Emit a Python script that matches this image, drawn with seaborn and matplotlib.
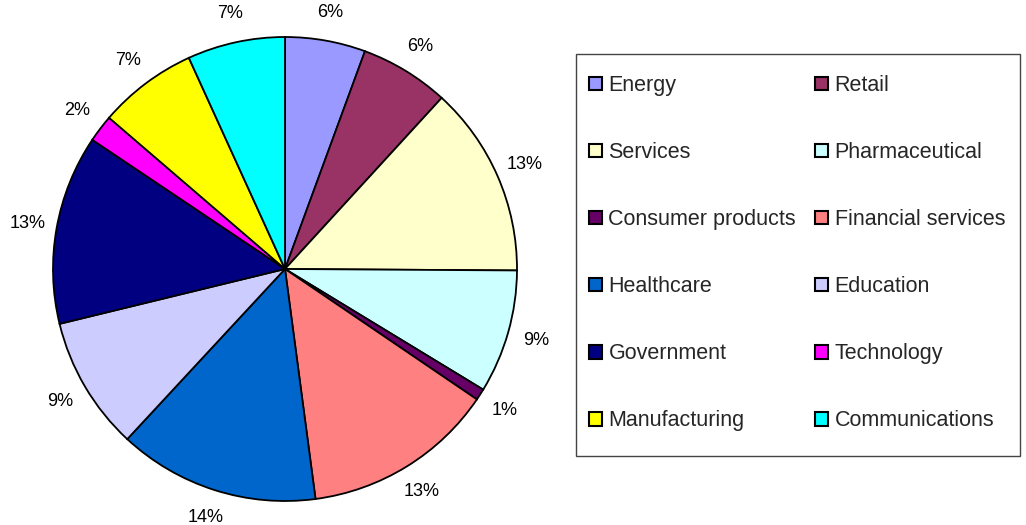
import matplotlib
matplotlib.use("Agg")
import matplotlib.pyplot as plt
from matplotlib.patches import Patch, Rectangle
import seaborn as sns

sns.set_style("white")
plt.rcParams["font.family"] = ["Liberation Sans", "DejaVu Sans"]

sectors = ["Energy", "Retail", "Services", "Pharmaceutical", "Consumer products",
           "Financial services", "Healthcare", "Education", "Government",
           "Technology", "Manufacturing", "Communications"]
shares = [5.6, 6.2, 13.3, 8.6, 0.8, 13.4, 14.0, 9.3, 13.2, 1.9, 6.9, 6.8]
colors = ["#9999FF", "#993366", "#FFFFCC", "#CCFFFF", "#660066", "#FF8080",
          "#0066CC", "#CCCCFF", "#000080", "#FF00FF", "#FFFF00", "#00FFFF"]

W, H = 1026, 525
fig = plt.figure(figsize=(W / 100, H / 100), dpi=100)
fig.patch.set_facecolor("white")

cx, cy, r = 285, 269, 232
ax = fig.add_axes([(cx - r) / W, (H - cy - r) / H, 2 * r / W, 2 * r / H])
wedges, texts, autotexts = ax.pie(
    shares, colors=colors, startangle=90, counterclock=False,
    autopct="%1.0f%%", pctdistance=1.125,
    wedgeprops=dict(edgecolor="black", linewidth=1.3),
    textprops=dict(fontsize=13, color="black"),
)
ax.set_xlim(-1, 1)
ax.set_ylim(-1, 1)
ax.set_aspect("equal")
ax.axis("off")

# legend box outline
fig.patches.append(Rectangle((576 / W, 1 - 456 / H), (1020 - 576) / W, (456 - 54) / H,
                             transform=fig.transFigure, facecolor="none",
                             edgecolor="#444444", linewidth=1.0))

# legend laid out row by row: reorder handles for matplotlib's column-major fill
handles = [Patch(facecolor=c, edgecolor="black", linewidth=1.5) for c in colors]
order = list(range(0, 12, 2)) + list(range(1, 12, 2))
leg = fig.legend(
    [handles[i] for i in order], [sectors[i] for i in order],
    ncol=2, loc="upper left", bbox_to_anchor=(589 / W, 1 - 75 / H),
    fontsize=15.5, frameon=False,
    labelspacing=2.14, handlelength=0.6, handleheight=0.6,
    handletextpad=0.3, columnspacing=0.9, borderpad=0, borderaxespad=0,
)

fig.savefig("out.png", dpi=100, facecolor="white")
